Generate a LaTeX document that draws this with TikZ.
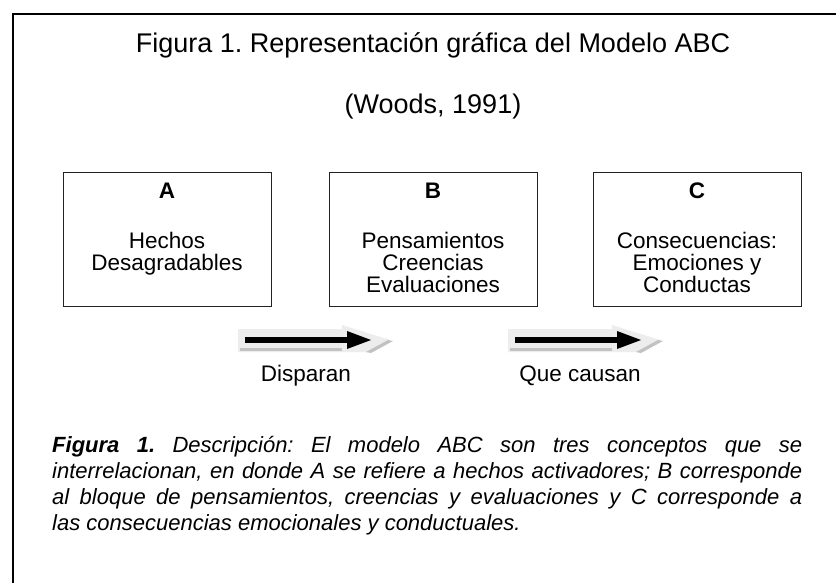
\documentclass[tikz,border=0pt]{standalone}
\usepackage{fontspec}
\setmainfont{Liberation Sans}
\definecolor{bevel}{HTML}{EDEDED}
\definecolor{bevelD}{HTML}{C2C2C2}
\definecolor{boxline}{HTML}{222222}
\begin{document}
\frenchspacing
\begin{tikzpicture}[x=1pt,y=-1pt,
  box/.style={draw=boxline, line width=1.3pt, minimum width=208pt, minimum height=134pt, anchor=north west, inner sep=0pt},
  lbl/.style={anchor=base, inner sep=0pt, font=\fontsize{22.5}{22}\selectfont},
  letter/.style={anchor=base, inner sep=0pt, font=\fontsize{22.5}{22}\selectfont\bfseries},
  titlef/.style={anchor=base, inner sep=0pt, font=\fontsize{27}{32}\selectfont},
  blockarrow/.pic={
    \fill[bevel] (0,1) -- (104,1) -- (104,-3) -- (152,12) -- (130,24) -- (0,24) -- cycle;
    \fill[bevelD] (2,20) rectangle (104,23);
    \fill[bevelD] (128,24) -- (150,12) -- (155,13) -- (133,25) -- cycle;
    \fill[black] (7,9) rectangle (111,15);
    \fill[black] (109,3) -- (133,12) -- (109,21) -- cycle;
  }]
\useasboundingbox (0,0) rectangle (836,583);
\fill[white] (0,0) rectangle (836,583);
% frame
\coordinate (fl) at (13,583);
\coordinate (fc) at (13,14);
\coordinate (fr) at (836,14);
\draw[line width=2.2pt] (fl) -- (fc) -- (fr);
% title
\node[titlef] (title) at (433,53) {Figura 1. Representación gráfica del Modelo ABC};
\node[titlef] (woods) at (433,114) {(Woods, 1991)};
% boxes
\node[box] (boxA) at (63,172) {};
\node[box] (boxB) at (329,172) {};
\node[box] (boxC) at (593,172) {};
\node[letter] (la) at (167,199) {A};
\node[letter] (lb) at (433,199) {B};
\node[letter] (lc) at (697,199) {C};
\node[lbl] (a1) at (167,248) {Hechos};
\node[lbl] (a2) at (167,270) {Desagradables};
\node[lbl] (b1) at (433,248) {Pensamientos};
\node[lbl] (b2) at (433,270) {Creencias};
\node[lbl] (b3) at (433,292) {Evaluaciones};
\node[lbl] (c1) at (697,248) {Consecuencias:};
\node[lbl] (c2) at (697,270) {Emociones y};
\node[lbl] (c3) at (697,292) {Conductas};
% block arrows
\pic at (238,328) {blockarrow};
\pic at (508,328) {blockarrow};
\node[lbl] (disp) at (306,381) {Disparan};
\node[lbl] (que) at (580,381) {Que causan};
% caption
\node[anchor=base west, inner sep=0pt, text width=750pt, align=justify,
      font=\fontsize{22}{26.3}\selectfont\itshape] (cap) at (52,452)
  {\hyphenpenalty=10000\exhyphenpenalty=10000\tolerance=9999\emergencystretch=20pt
   {\bfseries Figura 1.} Descripción: El modelo ABC son tres conceptos que se\linebreak
   interrelacionan, en donde A se refiere a hechos activadores; B corresponde\linebreak
   al bloque de pensamientos, creencias y evaluaciones y C corresponde a\linebreak
   las consecuencias emocionales y conductuales.};
\end{tikzpicture}
\end{document}
